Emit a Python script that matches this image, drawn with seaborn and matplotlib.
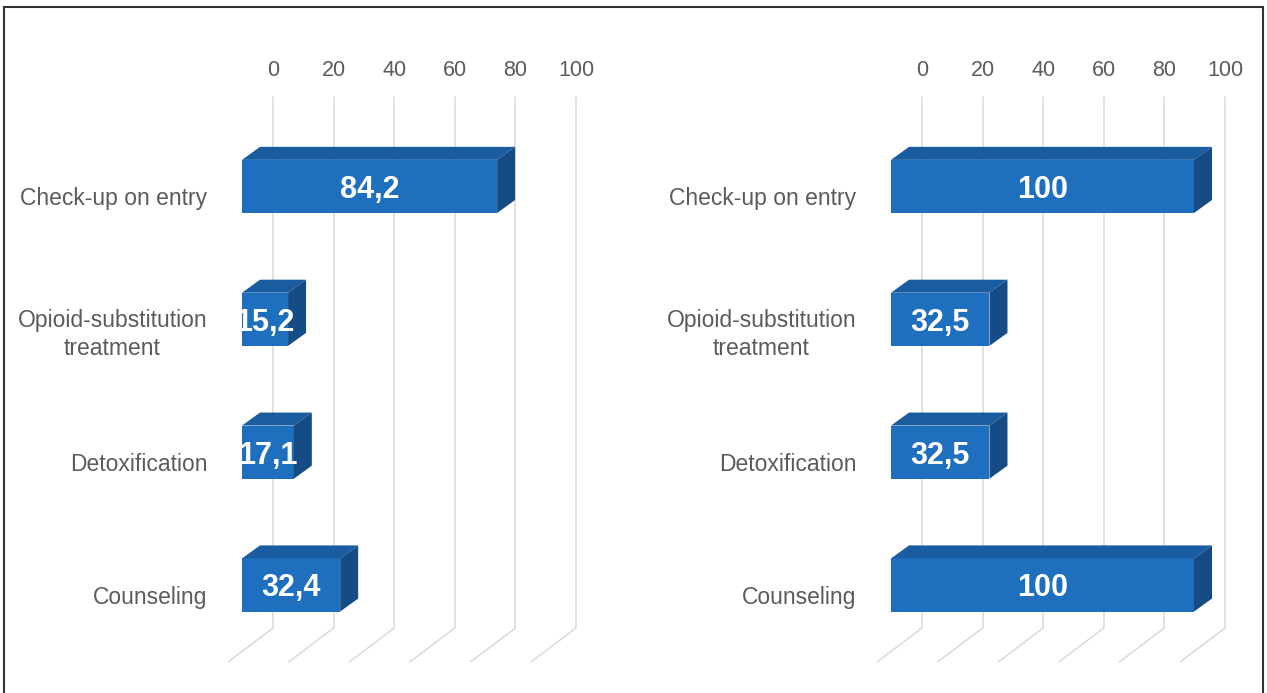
import matplotlib
matplotlib.use('Agg')
import matplotlib.pyplot as plt
import seaborn as sns
import pandas as pd
from matplotlib.patches import Polygon, Rectangle
from matplotlib.lines import Line2D

categories = ["Check-up on entry", "Opioid-substitution\ntreatment", "Detoxification", "Counseling"]
left_values = [84.2, 15.2, 17.1, 32.4]
right_values = [100, 32.5, 32.5, 100]
tick_values = [0, 20, 40, 60, 80, 100]


def fmt(v):
    return f"{v:.1f}".replace('.', ',') if v % 1 else f"{int(v)}"


W, H = 1267, 693
sns.set_theme(style='white')
plt.rcParams['font.family'] = ['Liberation Sans', 'DejaVu Sans']
fig = plt.figure(figsize=(W / 100, H / 100), dpi=100)
fig.patch.set_facecolor('white')

FRONT = '#1E6FBD'
TOP = '#195C9F'
SIDE = '#154C85'
GRID = '#DADADA'
TXT = '#5E5A5A'

PX = 303 / 100.0   # pixels per unit on x
ROW = 132.8        # pixels per category row
XMAX = 115.0


def ux(p):
    return p / PX


def uy(p):
    return p / ROW


panels = [(242, left_values), (891, right_values)]
ax_top_px = 120.0
ax_bot_px = 651.4

for x0px, vals in panels:
    ax = fig.add_axes([x0px / W, (H - ax_bot_px) / H, XMAX * PX / W,
                       (ax_bot_px - ax_top_px) / H])
    ax.set_facecolor('none')
    df = pd.DataFrame({'cat': categories, 'val': vals})
    sns.barplot(data=df, x='val', y='cat', orient='h', color=FRONT, width=0.4,
                saturation=1, ax=ax, zorder=3, linewidth=0)

    wall_dx = ux(31)

    ax.xaxis.tick_top()
    ax.set_xticks([v + wall_dx for v in tick_values], labels=[str(v) for v in tick_values])
    ax.tick_params(axis='x', length=0, pad=28, labelsize=15.5, labelcolor=TXT)
    ax.set_yticks([i + 0.075 for i in range(len(categories))], labels=categories)
    ax.tick_params(axis='y', length=0, pad=25, labelsize=16.5, labelcolor=TXT)
    for lbl in ax.get_yticklabels():
        lbl.set_multialignment('center')
        lbl.set_linespacing(1.3)
    ax.set_xlabel('')
    ax.set_ylabel('')
    for s in ax.spines.values():
        s.set_visible(False)

    # back wall gridlines + floor lines
    y_wall_top = -0.5 + uy(97 - ax_top_px)
    y_wall_bot = 3.5 + uy(628 - ax_bot_px)
    floor_dx = -ux(45)
    floor_dy = uy(34)
    for v in tick_values:
        xw = v + wall_dx
        ax.add_line(Line2D([xw, xw], [y_wall_top, y_wall_bot], color=GRID, lw=1.1,
                           zorder=1, clip_on=False))
        ax.add_line(Line2D([xw, xw + floor_dx], [y_wall_bot, y_wall_bot + floor_dy],
                           color=GRID, lw=1.1, zorder=1, clip_on=False))

    # 3D faces for each bar
    ddx = ux(18)
    ddy = -uy(13)
    for p, v in zip(ax.patches, vals):
        x0 = p.get_x()
        w = p.get_width()
        y = p.get_y()
        h = p.get_height()
        top = Polygon([(x0, y), (x0 + w, y), (x0 + w + ddx, y + ddy), (x0 + ddx, y + ddy)],
                      closed=True, fc=TOP, ec='none', zorder=3, clip_on=False)
        side = Polygon([(x0 + w, y), (x0 + w + ddx, y + ddy), (x0 + w + ddx, y + h + ddy),
                        (x0 + w, y + h)], closed=True, fc=SIDE, ec='none', zorder=3,
                       clip_on=False)
        ax.add_patch(top)
        ax.add_patch(side)
        p.set_clip_on(False)
        ax.text(x0 + w / 2, y + h / 2, fmt(v), ha='center', va='center_baseline',
                color='white', fontsize=22, fontweight='bold', zorder=5)

    ax.set_xlim(0, XMAX)
    ax.set_ylim(3.5, -0.5)

fig.add_artist(Rectangle((4 / W, -0.02), 1259 / W, (H - 7) / H + 0.02,
                         transform=fig.transFigure, fill=False, ec='#333333', lw=1.5))

fig.savefig('out.png', dpi=100, facecolor='white')
